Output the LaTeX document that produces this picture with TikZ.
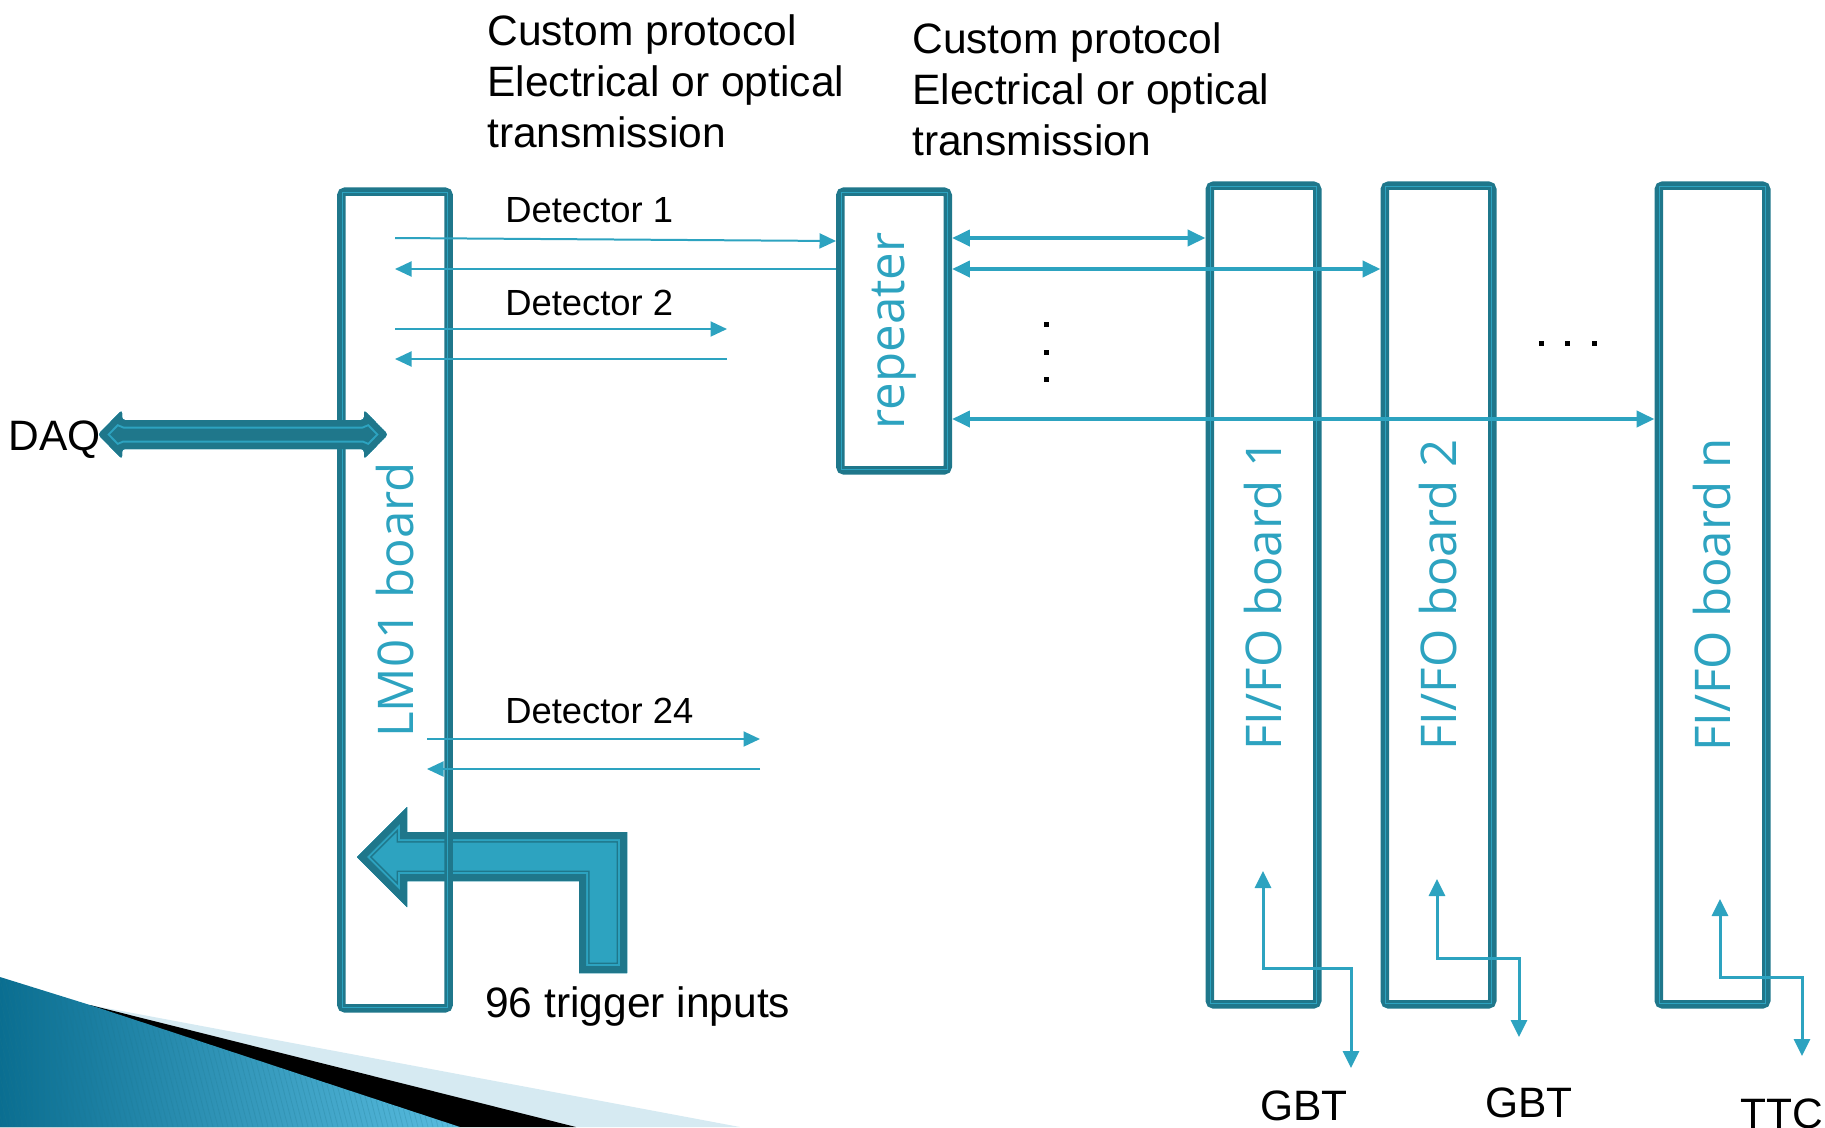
\documentclass[tikz,border=0pt]{standalone}
\usepackage{fontspec}
\setmainfont{Liberation Sans}
\newfontfamily\boardfont{Open Sans}
\usepackage{graphicx}
\usetikzlibrary{arrows.meta}
\definecolor{dk}{RGB}{31,119,139}
\definecolor{lt}{RGB}{45,163,192}
\definecolor{pale}{RGB}{214,234,242}
\tikzset{
  board/.style={draw=dk, line width=0.17cm, rounded corners=0.08cm, minimum width=2.15cm, inner sep=0pt, text=lt, font=\boardfont\fontsize{28}{33}\selectfont},
  txt/.style={inner sep=0pt, anchor=base west, font=\fontsize{24.2}{29}\selectfont},
  det/.style={inner sep=0pt, anchor=base west, font=\fontsize{20.7}{25}\selectfont},
  sig/.style={lt, line width=0.04cm, -{Triangle[length=0.33cm,width=0.3cm]}},
  link/.style={lt, line width=0.08cm, {Triangle[length=0.36cm,width=0.32cm]}-{Triangle[length=0.36cm,width=0.32cm]}},
  feed/.style={lt, line width=0.06cm, {Triangle[length=0.34cm,width=0.32cm]}-{Triangle[length=0.34cm,width=0.32cm]}}
}
\newcommand\daqshape{(98,434.5) -- (122,410) -- (122,420) -- (364,420) -- (364,410) -- (388,434.5) -- (364,459) -- (364,449) -- (122,449) -- (122,459) -- cycle}
\newcommand\trigshape{(357,857) -- (407,807) -- (407,832) -- (627,832) -- (627,973) -- (579,973) -- (579,881) -- (407,881) -- (407,907) -- cycle}
\begin{document}
\begin{tikzpicture}[x=0.02cm,y=-0.02cm]
\useasboundingbox (0,0) rectangle (1825,1127);
% corner swoosh
\fill[pale] (90,1005) -- (740,1127) -- (0,1127) -- cycle;
\fill[black] (90,1005) -- (576,1127) -- (0,1127) -- cycle;
\begin{scope}
\clip (0,977) -- (90,1005) -- (460,1127) -- (0,1127) -- cycle;
\shade[left color={rgb,255:red,10;green,110;blue,145}, right color={rgb,255:red,90;green,190;blue,225}] (0,960) rectangle (470,1127);
\foreach \s in {-60,-55,...,470} \draw[dk, opacity=0.25, line width=0.015cm] (\s,960) -- ++(43,167);
\end{scope}
% trigger inputs arrow
\begin{scope}
\clip \trigshape;
\fill[lt] \trigshape;
\draw[dk, line width=0.42cm] \trigshape;
\draw[lt, line width=0.36cm] \trigshape;
\draw[dk, line width=0.28cm] \trigshape;
\end{scope}
% boards
\node[board, minimum height=16.34cm] (lm) at (395,600) {\rotatebox{90}{LM01 board}};
\node[board, minimum height=5.58cm] (rep) at (894,331) {\rotatebox{90}{repeater}};
\node[board, minimum height=16.38cm] (fb1) at (1263.5,595) {\rotatebox{90}{FI/FO board 1}};
\node[board, minimum height=16.38cm] (fb2) at (1438.5,595) {\rotatebox{90}{FI/FO board 2}};
\node[board, minimum height=16.38cm] (fbn) at (1712.5,595) {\rotatebox{90}{FI/FO board n}};
\foreach \b in {lm,rep,fb1,fb2,fbn}{
  \draw[lt, line width=0.02cm] ([shift={(5,5)}]\b.north west) rectangle ([shift={(-5,-5)}]\b.south east);
  \draw[dk, line width=0.04cm] ([shift={(7,7)}]\b.north west) rectangle ([shift={(-7,-7)}]\b.south east);
}
% texts
\node[txt] (cpa1) at (487,45) {Custom protocol};
\node[txt] (cpa2) at (487,96) {Electrical or optical};
\node[txt] (cpa3) at (487,147) {transmission};
\node[txt] (cpb1) at (912,53) {Custom protocol};
\node[txt] (cpb2) at (912,104) {Electrical or optical};
\node[txt] (cpb3) at (912,155) {transmission};
\node[det] (det1) at (505,222) {Detector 1};
\node[det] (det2) at (505,315) {Detector 2};
\node[det] (det24) at (505,723) {Detector 24};
\node[txt] (daq) at (8,450) {DAQ};
\node[txt] (trig) at (485,1017) {96 trigger inputs};
\node[txt] (gbt1) at (1260,1120) {GBT};
\node[txt] (gbt2) at (1485,1117) {GBT};
\node[txt] (ttc) at (1740,1128) {TTC};
% detector links
\coordinate (d2) at (727,329);
\coordinate (d24s) at (427,739);
\coordinate (d24) at (760,739);
\draw[sig] (lm.center |- 0,238) -- (rep.west |- 0,241);
\draw[sig] (rep.west |- 0,269) -- (lm.center |- 0,269);
\draw[sig] (lm.center |- d2) -- (d2);
\draw[sig] (d2 |- 0,359) -- (lm.center |- 0,359);
\draw[sig] (d24s) -- (d24);
\draw[sig] (d24 |- 0,769) -- (d24s |- 0,769);
% repeater to boards
\draw[link] (rep.east |- 0,238) -- (fb1.west |- 0,238);
\draw[link] (rep.east |- 0,269) -- (fb2.west |- 0,269);
\draw[link] (rep.east |- 0,419) -- (fbn.west |- 0,419);
\foreach \y in {324,352,379} \fill (1043.5,{\y-2.5}) rectangle ++(5,5);
\foreach \x in {1541,1567,1594} \fill ({\x-2.5},340.5) rectangle ++(5,5);
% GBT / TTC
\coordinate (g1) at (1263,871);
\coordinate (g2) at (1437,879);
\coordinate (g3) at (1720,899);
\draw[feed] (g1) |- (1351,968) -- (1351,1068);
\draw[feed] (g2) |- (1519,958) -- (1519,1037);
\draw[feed] (g3) |- (1802,977) -- (1802,1056);
% DAQ arrow
\begin{scope}[rounded corners=0.06cm]
\clip \daqshape;
\fill[dk] \daqshape;
\draw[lt, line width=0.34cm] \daqshape;
\draw[dk, line width=0.26cm] \daqshape;
\end{scope}
\end{tikzpicture}
\end{document}
